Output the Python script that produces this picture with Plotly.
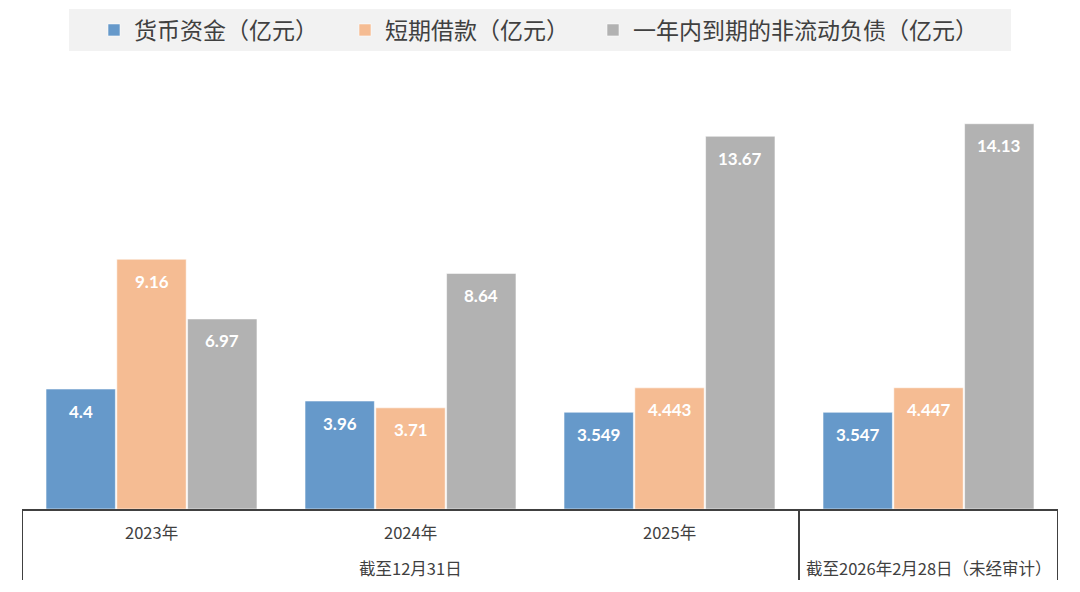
import plotly.graph_objects as go

# ---- data ----
categories = ["2023年", "2024年", "2025年", "2026年2月28日"]
year_labels = ["2023年", "2024年", "2025年", ""]
period_labels = ["截至12月31日", "截至2026年2月28日（未经审计）"]
period_centers = [1, 3]  # category index each period label is centered on

series_names = ["货币资金（亿元）", "短期借款（亿元）", "一年内到期的非流动负债（亿元）"]
cash = [4.4, 3.96, 3.549, 3.547]
short_loans = [9.16, 3.71, 4.443, 4.447]
current_ncl = [6.97, 8.64, 13.67, 14.13]
series_values = [cash, short_loans, current_ncl]
colors = ["#6699CA", "#F5BC93", "#B2B2B2"]

W, H = 1080, 592
OFF = 8  # page body margin offset
# target screen pixels -> figure pixels
def fx(px):
    return px - OFF
def fy(py):
    return py - OFF

L = fx(22)
R = W - fx(1058)
T = fy(100)
B = H - fy(509)
pw, ph = W - L - R, H - T - B
base = H - B  # figure y of baseline

def py2paper(py):
    return (base - fy(py)) / ph

def px2paper(px):
    return (fx(px) - L) / pw

BARGAP, GROUPGAP = 0.18, 0.02
slot = pw / len(categories) * (1 - BARGAP) / len(series_names)

legend_x = [px2paper(94), px2paper(345), px2paper(593)]
legend_keys = ["legend", "legend2", "legend3"]

fig = go.Figure()
for k, (name, vals, col) in enumerate(zip(series_names, series_values, colors)):
    fig.add_trace(go.Bar(
        x=categories, y=vals, name=name, legend=legend_keys[k],
        marker=dict(color=col, line=dict(color="rgba(255,255,255,0.55)", width=1)),
    ))
    for i, v in enumerate(vals):
        fig.add_annotation(x=categories[i], y=v, xref="x", yref="y",
                           xshift=(k - 1) * slot, yshift=-22,
                           text="<b>%s</b>" % v, showarrow=False,
                           font=dict(color="white", size=17, family="Lato, Noto Sans CJK SC"))

leg_common = dict(orientation="h", xanchor="left", yanchor="middle",
                  y=py2paper(30), bgcolor="rgba(0,0,0,0)",
                  font=dict(size=23, color="#404040", family="Noto Sans CJK SC"),
                  itemclick=False)

fig.update_layout(
    width=W, height=H,
    margin=dict(l=L, r=R, t=T, b=B, autoexpand=False),
    paper_bgcolor="white", plot_bgcolor="white",
    barmode="group", bargap=BARGAP, bargroupgap=GROUPGAP,
    font=dict(family="Noto Sans CJK SC", color="#404040"),
    showlegend=True,
    legend=dict(x=legend_x[0], **leg_common),
    legend2=dict(x=legend_x[1], **leg_common),
    legend3=dict(x=legend_x[2], **leg_common),
    xaxis=dict(
        showticklabels=False, ticks="", showgrid=False, zeroline=False,
        showline=True, linecolor="#404040", linewidth=2,
        range=[-0.5, 3.5], fixedrange=True,
    ),
    yaxis=dict(
        visible=False, range=[0, 15], showgrid=False, zeroline=False,
    ),
)

# legend background band
fig.add_shape(type="rect", xref="paper", yref="paper",
              x0=px2paper(69), x1=px2paper(1011),
              y0=py2paper(51), y1=py2paper(9),
              fillcolor="#F2F2F2", line=dict(width=0), layer="below")

# category axis frame lines
bottom = py2paper(580)
for xv in [-0.5, 2.5, 3.5]:
    fig.add_shape(type="line", xref="x", yref="paper", x0=xv, x1=xv, y0=0, y1=bottom,
                  line=dict(color="#404040", width=2))

row1_y = py2paper(532)
row2_y = py2paper(568)
for i, lab in enumerate(year_labels):
    if lab:
        fig.add_annotation(x=categories[i], y=row1_y, xref="x", yref="paper",
                           yanchor="middle", text=lab, showarrow=False,
                           font=dict(size=16.5, color="#404040"))
for c, lab in zip(period_centers, period_labels):
    fig.add_annotation(x=categories[c], y=row2_y, xref="x", yref="paper",
                       yanchor="middle", text=lab, showarrow=False,
                       font=dict(size=16.5, color="#404040"))

fig.write_html("out.html")
